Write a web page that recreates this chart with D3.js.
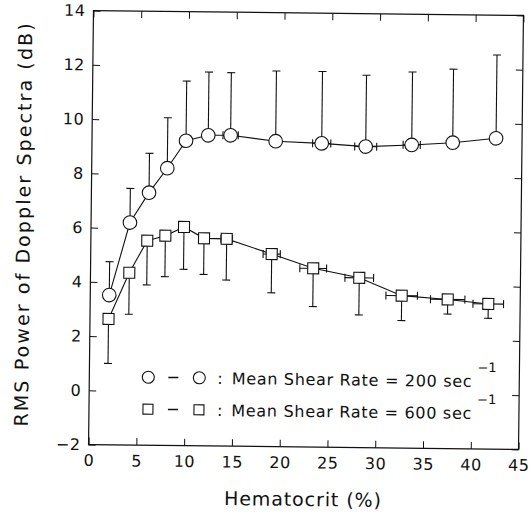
<!DOCTYPE html>
<html>
<head>
<meta charset="utf-8">
<script src="https://cdn.jsdelivr.net/npm/d3@7"></script>
<style>
    body { margin: 0; background: #fff; }
    text { font-family: "DejaVu Sans", sans-serif; fill: #111; }
</style>
</head>
<body>
<script>
//hematocrit (%) and RMS power (dB), shear rate 200 sec-1
var hct200 = [1.99, 4.07, 6.03, 7.91, 9.84, 12.16, 14.5, 19.22, 24.04, 28.65, 33.46, 37.75, 42.28];
var rms200 = [3.52, 6.20, 7.31, 8.22, 9.24, 9.45, 9.46, 9.26, 9.20, 9.10, 9.18, 9.28, 9.46];
var sd200 = [1.23, 1.26, 1.45, 1.86, 2.2, 2.33, 2.31, 2.59, 2.65, 2.63, 2.69, 2.71, 3.07];
var hctErr200 = [0, 0, 0, 0, 0, 0, 0.8, 0, 0.95, 1.15, 0.9, 0, 0];

//shear rate 600 sec-1
var hct600 = [1.94, 4.06, 5.9, 7.79, 9.73, 11.84, 14.21, 18.94, 23.3, 28.13, 32.59, 37.41, 41.66];
var rms600 = [2.64, 4.35, 5.54, 5.73, 6.06, 5.65, 5.64, 5.1, 4.59, 4.26, 3.62, 3.5, 3.35];
var sd600 = [1.64, 1.53, 1.63, 1.51, 1.56, 1.33, 1.52, 1.43, 1.41, 1.37, 0.92, 0.54, 0.53];
var hctErr600 = [0, 0, 0, 0, 0, 0, 0.6, 0.9, 1.4, 1.5, 1.65, 1.8, 1.6];

var xTicks = [0, 5, 10, 15, 20, 25, 30, 35, 40, 45];
var yTicks = [-2, 0, 2, 4, 6, 8, 10, 12, 14];
var legendRates = ["200", "600"];

var width = 531;
var height = 516;
var margin = ({top: 13, right: 10, bottom: 69, left: 91});

var x = d3.scaleLinear()
    .domain([0, 45])
    .range([margin.left, width - margin.right]);

var y = d3.scaleLinear()
    .domain([-2, 14])
    .range([height - margin.bottom, margin.top]);

var svg = d3.select("body").append("svg")
    .attr("width", width)
    .attr("height", height);

//the scanned figure sits slightly tilted
var g = svg.append("g")
    .attr("transform", "rotate(0.65, 306, 230)");

//axes, ticks inward on all four sides
g.append("g")
    .attr("transform", `translate(0,${y(-2)})`)
    .call(d3.axisBottom(x).tickValues(xTicks).tickSize(-7).tickPadding(10).tickSizeOuter(0))
    .call(a => a.select(".domain").remove())
    .call(a => a.selectAll("text").attr("font-size", 16).attr("letter-spacing", 0.5));

g.append("g")
    .attr("transform", `translate(0,${y(14)})`)
    .call(d3.axisTop(x).tickValues(xTicks).tickSize(-7).tickFormat(""))
    .call(a => a.select(".domain").remove());

g.append("g")
    .attr("transform", `translate(${x(0)},0)`)
    .call(d3.axisLeft(y).tickValues(yTicks).tickSize(-7).tickPadding(8).tickSizeOuter(0))
    .call(a => a.select(".domain").remove())
    .call(a => a.selectAll("text").attr("font-size", 16).attr("letter-spacing", 0.5));

g.append("g")
    .attr("transform", `translate(${x(45)},0)`)
    .call(d3.axisRight(y).tickValues(yTicks).tickSize(-7).tickFormat(""))
    .call(a => a.select(".domain").remove());

g.selectAll(".tick line").attr("stroke", "#111");

//frame
g.append("rect")
    .attr("x", x(0))
    .attr("y", y(14))
    .attr("width", x(45) - x(0))
    .attr("height", y(-2) - y(14))
    .attr("fill", "none")
    .attr("stroke", "#111")
    .attr("stroke-width", 1.2);

//axis titles
g.append("text")
    .attr("x", (x(0) + x(45)) / 2)
    .attr("y", 506)
    .attr("text-anchor", "middle")
    .attr("font-size", 19)
    .attr("letter-spacing", 0.9)
    .text("Hematocrit (%)");

g.append("text")
    .attr("transform", `translate(30,${(y(-2) + y(14)) / 2 - 3}) rotate(-90)`)
    .attr("text-anchor", "middle")
    .attr("font-size", 19)
    .attr("letter-spacing", 2.1)
    .text("RMS Power of Doppler Spectra (dB)");

var data200 = hct200.map((h, i) => ({x: h, y: rms200[i], sd: sd200[i], xe: hctErr200[i]}));
var data600 = hct600.map((h, i) => ({x: h, y: rms600[i], sd: sd600[i], xe: hctErr600[i]}));

var line = d3.line().x(d => x(d.x)).y(d => y(d.y));

function drawSeries(data, up) {
    var s = g.append("g").attr("stroke", "#111").attr("stroke-width", 1.1).attr("fill", "none");

    s.append("path").attr("d", line(data));

    //vertical error bars, up for circles and down for squares
    data.forEach(d => {
        var yEnd = up ? y(d.y + d.sd) : y(d.y - d.sd);
        s.append("line").attr("x1", x(d.x)).attr("x2", x(d.x)).attr("y1", y(d.y)).attr("y2", yEnd);
        s.append("line").attr("x1", x(d.x) - 4).attr("x2", x(d.x) + 4).attr("y1", yEnd).attr("y2", yEnd);

        //horizontal error bars
        if (d.xe > 0) {
            s.append("line").attr("x1", x(d.x - d.xe)).attr("x2", x(d.x + d.xe)).attr("y1", y(d.y)).attr("y2", y(d.y));
            [d.x - d.xe, d.x + d.xe].forEach(v => {
                s.append("line").attr("x1", x(v)).attr("x2", x(v)).attr("y1", y(d.y) - 4).attr("y2", y(d.y) + 4);
            });
        }
    });
    return s;
}

var s200 = drawSeries(data200, true);
s200.selectAll("circle").data(data200).enter().append("circle")
    .attr("cx", d => x(d.x))
    .attr("cy", d => y(d.y))
    .attr("r", 6.8)
    .attr("fill", "#fff");

var s600 = drawSeries(data600, false);
s600.selectAll("rect").data(data600).enter().append("rect")
    .attr("x", d => x(d.x) - 5.5)
    .attr("y", d => y(d.y) - 5.5)
    .attr("width", 11)
    .attr("height", 11)
    .attr("fill", "#fff");

//legend
var legend = g.append("g");
legendRates.forEach((rate, i) => {
    var ly = 379 + i * 32;
    var marks = legend.append("g").attr("stroke", "#111").attr("stroke-width", 1.1).attr("fill", "none");
    [150, 201].forEach(cx => {
        if (i == 0) {
            marks.append("circle").attr("cx", cx).attr("cy", ly).attr("r", 6);
        } else {
            marks.append("rect").attr("x", cx - 5).attr("y", ly - 5).attr("width", 10).attr("height", 10);
        }
    });
    marks.append("line").attr("x1", 170).attr("x2", 180).attr("y1", ly).attr("y2", ly).attr("stroke-width", 1.6);

    var t = legend.append("text")
        .attr("x", 219)
        .attr("y", ly + 6)
        .attr("font-size", 16);
    t.append("tspan").text(":");
    t.append("tspan").attr("dx", 9).attr("letter-spacing", 0.7).text("Mean Shear Rate = " + rate + " sec");
    t.append("tspan").attr("dx", 5).attr("dy", -15).attr("font-size", 13).attr("letter-spacing", 0).text("−1");
});
</script>
</body>
</html>
